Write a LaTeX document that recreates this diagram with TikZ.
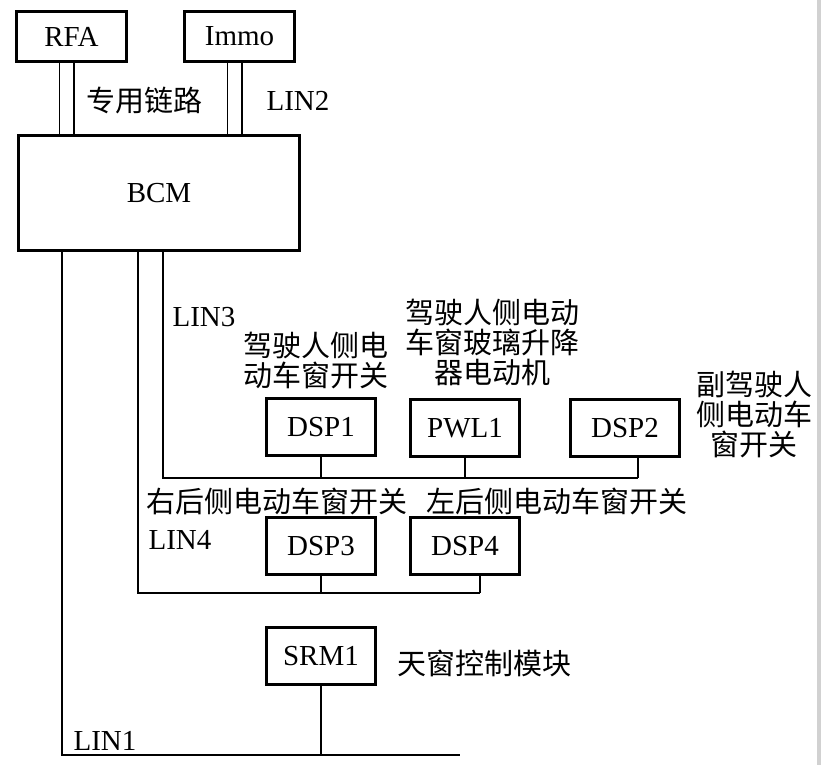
\documentclass[tikz,border=0pt]{standalone}
\usepackage{fontspec}
\setmainfont{Liberation Serif}
\newfontfamily\cjk{Noto Sans CJK SC}
\tikzset{ecubox/.style={
    rectangle,
    draw,
    line width=3pt,
    inner sep=0pt,
    minimum width=109pt,
    minimum height=57pt
  },
  topbox/.style={ecubox,minimum width=110pt,minimum height=50pt},
  bcmbox/.style={ecubox,minimum width=281pt,minimum height=115pt},
  bus/.style={line width=1.6pt},
  link/.style={line width=1.4pt},
  cnlabel/.style={inner sep=0pt,align=center,font=\fontsize{29}{30}\cjk},
  enlabel/.style={inner sep=0pt},
}

\begin{document}
\begin{tikzpicture}[x=1pt,y=-1pt,font=\fontsize{29}{30}\selectfont]
  \useasboundingbox (0,0) rectangle (821,765);
  \fill[black!18] (817,0) rectangle (821,765);

  % modules
  \node [topbox] (rfa) at (71.5,36.5) {RFA};
  \node [topbox] (immo) at (239.5,36.5) {Immo};
  \node [bcmbox] (bcm) at (159,193) {BCM};
  \node [ecubox] (dsp1) at (321,427) {DSP1};
  \node [ecubox] (pwl1) at (465,428) {PWL1};
  \node [ecubox] (dsp2) at (625,428) {DSP2};
  \node [ecubox] (dsp3) at (321,546) {DSP3};
  \node [ecubox] (dsp4) at (465,546) {DSP4};
  \node [ecubox] (srm1) at (321,656) {SRM1};

  % labels
  \node [cnlabel] (linkname) at (144,101) {专用链路};
  \node [enlabel] (lin2name) at (298,101) {LIN2};
  \node [enlabel] (lin3name) at (204,317) {LIN3};
  \node [enlabel] (lin4name) at (180,540) {LIN4};
  \node [enlabel] (lin1name) at (105,741) {LIN1};
  \node [cnlabel] (dsp1name) at (316,361) {驾驶人侧电\\动车窗开关};
  \node [cnlabel] (pwl1name) at (492,342) {驾驶人侧电动\\车窗玻璃升降\\器电动机};
  \node [cnlabel] (dsp2name) at (754,415) {副驾驶人\\侧电动车\\窗开关};
  \node [cnlabel] (dsp3name) at (277,501) {右后侧电动车窗开关};
  \node [cnlabel] (dsp4name) at (557,501) {左后侧电动车窗开关};
  \node [cnlabel] (srm1name) at (484,663) {天窗控制模块};

  % RFA / Immo double links
  \foreach \s in {-12,2.5} {
    \draw[link] ([xshift=\s pt]rfa.south) -- ([xshift=\s pt]rfa.south |- bcm.north);
    \draw[link] ([xshift=\s pt]immo.south) -- ([xshift=\s pt]immo.south |- bcm.north);
  }

  % LIN buses
  \coordinate (lin1) at (62,755);
  \coordinate (lin1end) at (460,755);
  \coordinate (lin4) at (138,593);
  \coordinate (lin4end) at (480,593);
  \coordinate (lin3) at (163,478);
  \coordinate (lin3end) at (638,478);

  \draw[bus] (bcm.south -| lin1) -- (lin1) -- (lin1end);
  \draw[bus] (srm1.south) -- (srm1.south |- lin1);
  \draw[bus] (bcm.south -| lin4) -- (lin4) -- (lin4end);
  \draw[bus] (dsp3.south) -- (dsp3.south |- lin4);
  \draw[bus] (dsp4.south -| lin4end) -- (lin4end);
  \draw[bus] (bcm.south -| lin3) -- (lin3) -- (lin3end);
  \draw[bus] (dsp1.south) -- (dsp1.south |- lin3);
  \draw[bus] (pwl1.south) -- (pwl1.south |- lin3);
  \draw[bus] (dsp2.south -| lin3end) -- (lin3end);
\end{tikzpicture}
\end{document}
